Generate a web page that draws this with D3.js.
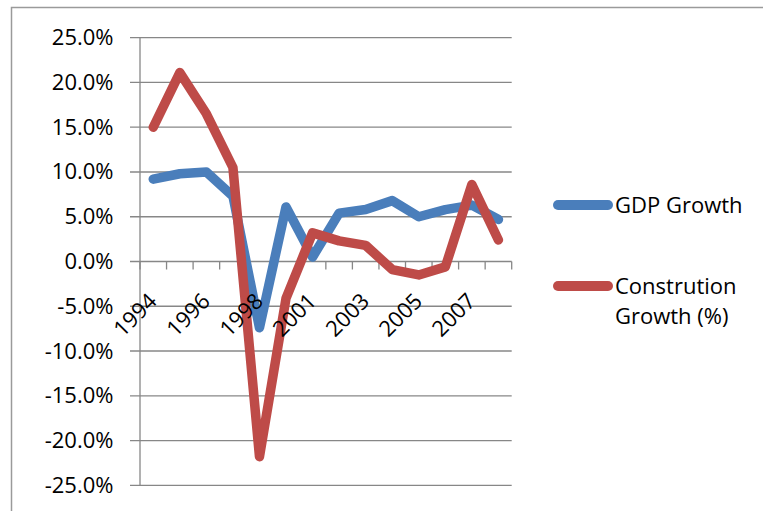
<!DOCTYPE html>
<html>
<head>
<meta charset="utf-8">
<script src="https://cdn.jsdelivr.net/npm/d3@7/dist/d3.min.js"></script>
<style>
  html, body { margin: 0; padding: 0; background: #fff; }
  svg { display: block; }
  text { font-family: "Open Sans", sans-serif; fill: #000; }
</style>
</head>
<body>
<svg id="chart" width="763" height="511"></svg>
<script>
// Annual growth rates, in percent
const years = ["1994", "1995", "1996", "1997", "1998", "1999", "2001",
               "2002", "2003", "2004", "2005", "2006", "2007", "2008"];
const gdpGrowth = [9.2, 9.8, 10.0, 7.3, -7.4, 6.1, 0.5, 5.4, 5.8, 6.8, 5.0, 5.8, 6.3, 4.7];
const constructionGrowth = [15.0, 21.1, 16.5, 10.5, -21.8, -4.1, 3.2, 2.3, 1.8, -0.9, -1.5, -0.6, 8.6, 2.4];
const yearLabels = ["1994", "1996", "1998", "2001", "2003", "2005", "2007"];
const yTicks = [25, 20, 15, 10, 5, 0, -5, -10, -15, -20, -25];
const seriesColors = ["#4A7EBB", "#BE4B48"];

const svg = d3.select("#chart");
const plot = { left: 140, right: 511.7, top: 37.7, bottom: 485.3 };
const gridColor = "#878787";
const axisFont = 22;
const legendFont = 22;

// Chart area frame
svg.append("path")
  .attr("d", "M11.5,520 V7.5 H780")
  .attr("fill", "none")
  .attr("stroke", "#9a9a9a")
  .attr("stroke-width", 1.5);

const x = d3.scaleBand().domain(years).range([plot.left, plot.right]).padding(0);
const y = d3.scaleLinear().domain([-25, 25]).range([plot.bottom, plot.top]);
const cx = d => x(d) + x.bandwidth() / 2;

// Horizontal gridlines with outer ticks on the value axis
svg.append("g").selectAll("line").data(yTicks).join("line")
  .attr("x1", plot.left - 10).attr("x2", plot.right)
  .attr("y1", d => y(d)).attr("y2", d => y(d))
  .attr("stroke", gridColor).attr("stroke-width", 1.3);

// Value axis line
svg.append("line")
  .attr("x1", plot.left).attr("x2", plot.left)
  .attr("y1", y(25)).attr("y2", y(-25))
  .attr("stroke", gridColor).attr("stroke-width", 1.3);

// Value axis labels
svg.append("g").selectAll("text").data(yTicks).join("text")
  .attr("x", 113.5).attr("y", d => y(d) + 7.5)
  .attr("text-anchor", "end")
  .attr("font-size", axisFont)
  .text(d => d.toFixed(1) + "%");

// Category ticks crossing below the zero line
const boundaries = years.map(d => x(d)).concat([x(years[years.length - 1]) + x.bandwidth()]);
svg.append("g").selectAll("line").data(boundaries).join("line")
  .attr("x1", d => d).attr("x2", d => d)
  .attr("y1", y(0)).attr("y2", y(0) + 8)
  .attr("stroke", gridColor).attr("stroke-width", 1.3);

// Series lines
const line = d3.line()
  .x((d, i) => cx(years[i]))
  .y(d => y(d));

[gdpGrowth, constructionGrowth].forEach((vals, k) => {
  svg.append("path")
    .datum(vals)
    .attr("d", line)
    .attr("fill", "none")
    .attr("stroke", seriesColors[k])
    .attr("stroke-width", 9.5)
    .attr("stroke-linejoin", "round")
    .attr("stroke-linecap", "round");
});

// Category labels, every other year, rotated, drawn above the lines
svg.append("g").selectAll("text").data(yearLabels).join("text")
  .attr("transform", d => `translate(${cx(d) + 5},${y(0) + 41}) rotate(-45)`)
  .attr("text-anchor", "end")
  .attr("font-size", axisFont)
  .text(d => d);

// Legend
const legend = svg.append("g");
const legendRows = [
  { y: 205, baseline: 213, lines: ["GDP Growth"] },
  { y: 286, baseline: 294, lines: ["Constrution", "Growth (%)"] }
];
legendRows.forEach((row, k) => {
  legend.append("line")
    .attr("x1", 558).attr("x2", 608)
    .attr("y1", row.y).attr("y2", row.y)
    .attr("stroke", seriesColors[k])
    .attr("stroke-width", 10)
    .attr("stroke-linecap", "round");
  legend.append("text")
    .attr("x", 615)
    .attr("y", row.baseline)
    .attr("font-size", legendFont)
    .selectAll("tspan").data(row.lines).join("tspan")
      .attr("x", 615)
      .attr("dy", (d, i) => i === 0 ? 0 : 30)
      .text(d => d);
});
</script>
</body>
</html>
